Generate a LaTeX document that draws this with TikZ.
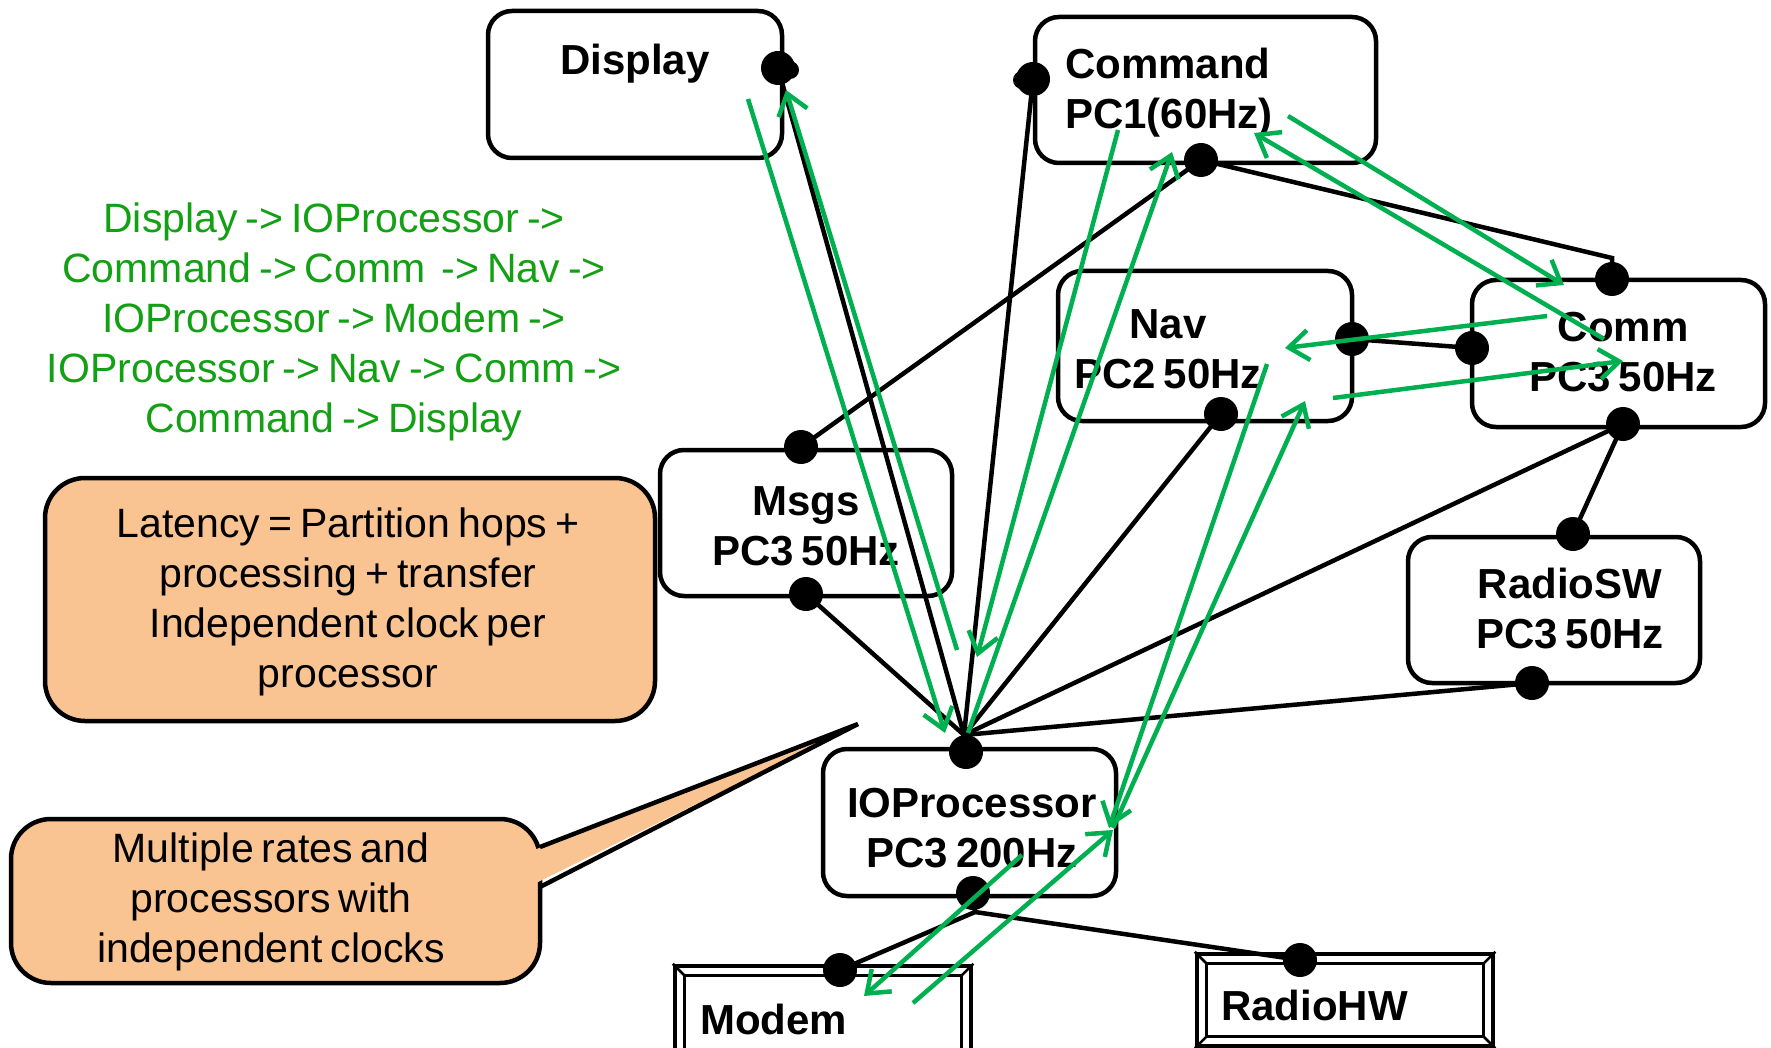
\documentclass[tikz,border=0pt]{standalone}
\usepackage{fontspec}
\setmainfont{Liberation Sans}[WordSpace=0.7]
\usetikzlibrary{arrows.meta,calc}
\definecolor{garrow}{RGB}{0,176,80}
\definecolor{gtext}{RGB}{20,160,20}
\definecolor{peach}{RGB}{250,196,146}
\begin{document}
\begin{tikzpicture}[x=1pt,y=-1pt,
  box/.style={draw=black, line width=4.5pt, rounded corners=24pt, fill=white, inner sep=0pt},
  note/.style={draw=black, line width=4.5pt, rounded corners=40pt, fill=peach, inner sep=0pt},
  hwbox/.style={draw=black, line width=4.5pt, fill=white, inner sep=0pt},
  lbl/.style={font=\fontsize{42}{50}\selectfont\bfseries, align=center, inner sep=0pt},
  txt/.style={font=\fontsize{41}{50}\selectfont, align=center, inner sep=0pt},
  port/.style={fill=black, circle, inner sep=0pt, minimum size=34pt},
  wire/.style={draw=black, line width=4.5pt},
  flow/.style={draw=garrow, line width=4.5pt, -{Straight Barb[length=20pt,width=30pt,line width=4.5pt]}}
]
\useasboundingbox (0,0) rectangle (1771,1048);
\fill[white] (0,0) rectangle (1771,1048);

% ---- boxes
\node[box, minimum width=294pt, minimum height=147pt] (display) at (635,84.5) {};
\node[box, minimum width=341pt, minimum height=146pt] (command) at (1205.5,90) {};
\node[box, minimum width=294pt, minimum height=150pt] (nav) at (1205,346) {};
\node[box, minimum width=293pt, minimum height=147pt] (comm) at (1618.5,353.5) {};
\node[box, minimum width=292pt, minimum height=146pt] (msgs) at (806,523) {};
\node[box, minimum width=292pt, minimum height=146pt] (radiosw) at (1554,610) {};
\node[box, minimum width=293pt, minimum height=147pt] (ioproc) at (969.5,822.5) {};

% hardware boxes with bevel frame
\node[hwbox, minimum width=296pt, minimum height=94pt] (modem) at (823,1013) {};
\node[hwbox, minimum width=296pt, minimum height=92pt] (radiohw) at (1345,1000) {};
\foreach \b in {modem,radiohw}{
  \draw[line width=3pt] ($(\b.north west)+(12,12)$) rectangle ($(\b.south east)+(-12,-12)$);
  \draw[line width=2.5pt] (\b.north west) -- ++(12,12);
  \draw[line width=2.5pt] (\b.north east) -- ++(-12,12);
  \draw[line width=2.5pt] (\b.south west) -- ++(12,-12);
  \draw[line width=2.5pt] (\b.south east) -- ++(-12,-12);
}

% ---- notes
\node[note, minimum width=610pt, minimum height=243pt] (latency) at (350,599.5) {};
\node[txt] (latencytxt) at (348,602) {Latency = Partition hops +\\processing + transfer\\Independent clock per\\processor};

\coordinate (tip) at (858,724);
\node[note, minimum width=529pt, minimum height=164pt] (callout) at (275.5,901) {};
\fill[peach] (534,850) -- (tip) -- (534,884) -- cycle;
\draw[line width=4.5pt, line join=miter] (540,847) -- (tip) -- (540,887);
\node[txt] (callouttxt) at (271,902) {Multiple rates and\\processors with\\independent clocks};

% ---- green sequence text
\node[txt, text=gtext] (seq) at (334,322) {Display -> IOProcessor ->\\Command -> Comm \ -> Nav ->\\IOProcessor -> Modem ->\\IOProcessor -> Nav -> Comm ->\\Command -> Display};

% ---- box labels
\node[lbl] (displaytxt) at (635,64) {Display};
\node[lbl, align=left, anchor=west] (commandtxt) at (1065,93) {Command\\PC1(60Hz)};
\node[lbl] (navtxt) at (1168,349) {Nav\\PC2 50Hz};
\node[lbl] (commtxt) at (1623,352) {Comm\\PC3 50Hz};
\node[lbl] (msgstxt) at (806,526) {Msgs\\PC3 50Hz};
\node[lbl] (radioswtxt) at (1570,609) {RadioSW\\PC3 50Hz};
\node[lbl] (ioproctxt) at (972,828) {IOProcessor\\PC3 200Hz};
\node[lbl, anchor=west] (modemtxt) at (700,1019) {Modem};
\node[lbl, anchor=west] (radiohwtxt) at (1221,1005) {RadioHW};

% ---- ports
\coordinate (pDisplay) at (778,68);
\coordinate (pCmdL) at (1033,79);
\coordinate (pCmdB) at (1201,160);
\coordinate (pMsgsT) at (801,447);
\coordinate (pMsgsB) at (806,594);
\coordinate (pNavR) at (1352,339);
\coordinate (pNavB) at (1221,414);
\coordinate (pCommL) at (1472,348);
\coordinate (pCommT) at (1612,279);
\coordinate (pCommB) at (1623,424);
\coordinate (pRswT) at (1573,534);
\coordinate (pRswB) at (1532,683);
\coordinate (pIoT) at (966,752);
\coordinate (pIoB) at (973,893);
\coordinate (pModemT) at (840,970);
\coordinate (pRhwT) at (1300,960);
\coordinate (hub) at (964,735);
\coordinate (hubB) at (975,912);

% ---- black wires
\draw[wire] (pDisplay) -- (hub);
\draw[wire] (pCmdL) -- (hub);
\draw[wire] (pNavB) -- (hub);
\draw[wire] (pCommB) -- (hub);
\draw[wire] (pRswB) -- (hub);
\draw[wire] (pMsgsB) -- (hub);
\draw[wire] (hub) -- (pIoT);
\draw[wire] (pCmdB) -- (pMsgsT);
\draw[wire] (pCmdB) -- (1612,258) -- (pCommT);
\draw[wire] (pNavR) -- (pCommL);
\draw[wire] (pCommB) -- (pRswT);
\draw[wire] (pIoB) -- (hubB) -- (pModemT);
\draw[wire] (hubB) -- (pRhwT);

\foreach \p in {pDisplay,pCmdL,pCmdB,pMsgsT,pMsgsB,pNavR,pNavB,pCommL,pCommT,pCommB,pRswT,pRswB,pIoT,pIoB,pModemT,pRhwT}{
  \node[port] at (\p) {};
}
\fill (790,70) circle (9pt);
\fill (1022,80) circle (9pt);

% ---- green flow arrows
\coordinate (a0) at (748,99);   \coordinate (a1) at (945,733);
\coordinate (b0) at (957,650);  \coordinate (b1) at (786,90);
\coordinate (c0) at (1118,130); \coordinate (c1) at (977,657);
\coordinate (d0) at (968,733);  \coordinate (d1) at (1172,152);
\coordinate (e0) at (1288,116); \coordinate (e1) at (1564,285);
\coordinate (f0) at (1547,316); \coordinate (f1) at (1285,348);
\coordinate (g0) at (1267,364); \coordinate (g1) at (1109,828);
\coordinate (h0) at (1113,828); \coordinate (h1) at (1305,401);
\coordinate (i0) at (1022,855); \coordinate (i1) at (864,996);
\coordinate (j0) at (913,1003); \coordinate (j1) at (1113,830);
\coordinate (k0) at (1333,398); \coordinate (k1) at (1623,361);
\coordinate (l0) at (1604,339); \coordinate (l1) at (1254,133);
\foreach \s in {a,b,c,d,e,f,g,h,i,j,k,l}{
  \draw[flow] (\s0) -- (\s1);
}
\end{tikzpicture}
\end{document}
